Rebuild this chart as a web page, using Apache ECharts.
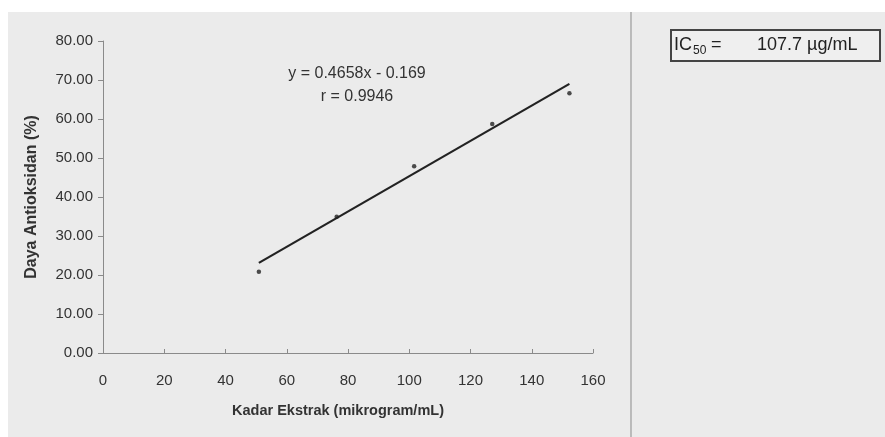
<!DOCTYPE html>
<html>
<head>
<meta charset="utf-8">
<script src="https://cdn.jsdelivr.net/npm/echarts@6/dist/echarts.min.js"></script>
<style>
html,body{margin:0;padding:0;background:#fff;}
#c{width:885px;height:437px;}
</style>
</head>
<body>
<div id="c"></div>
<script>
// Data
var kadar = [50.9, 76.3, 101.6, 127.1, 152.3];
var daya = [20.85, 34.95, 47.9, 58.7, 66.6];
var trendX = [50.9, 152.3];
var trendY = [23.1, 69.0];
var xTicks = [0, 20, 40, 60, 80, 100, 120, 140, 160];
var yTicks = [0, 10, 20, 30, 40, 50, 60, 70, 80];
var eqText = 'y = 0.4658x - 0.169';
var rText = 'r = 0.9946';
var icLabel = 'IC';
var icSub = '50';
var icValue = '107.7 µg/mL';

var chart = echarts.init(document.getElementById('c'));
var font = '"Liberation Sans", Arial, sans-serif';
var option = {
  backgroundColor: '#ffffff',
  animation: false,
  textStyle: { fontFamily: font },
  grid: { left: 103, right: 292, top: 41, bottom: 84 },
  xAxis: {
    type: 'value', min: 0, max: 160, interval: 20,
    name: 'Kadar Ekstrak (mikrogram/mL)', nameLocation: 'middle', nameGap: 50,
    nameTextStyle: { fontSize: 14.5, fontWeight: 'bold', color: '#333', padding: [0, 20, 0, 0] },
    axisLine: { lineStyle: { color: '#8a8a8a', width: 1 } },
    axisTick: { inside: true, length: 4, lineStyle: { color: '#8a8a8a' } },
    axisLabel: { fontSize: 15, color: '#333', margin: 20 },
    splitLine: { show: false }
  },
  yAxis: {
    type: 'value', min: 0, max: 80, interval: 10,
    name: 'Daya Antioksidan (%)', nameLocation: 'middle', nameGap: 63,
    nameTextStyle: { fontSize: 16, fontWeight: 'bold', color: '#333' },
    axisLine: { show: true, lineStyle: { color: '#8a8a8a', width: 1 } },
    axisTick: { show: true, length: 5, lineStyle: { color: '#8a8a8a' } },
    axisLabel: { fontSize: 15, color: '#333', margin: 10, formatter: function (v) { return v.toFixed(2); } },
    splitLine: { show: false }
  },
  graphic: [
    { type: 'rect', z: -10, shape: { x: 8, y: 12, width: 877, height: 425 }, style: { fill: '#ebebeb' } },
    { type: 'line', z: -5, shape: { x1: 631, y1: 12, x2: 631, y2: 437 }, style: { stroke: '#9a9a9a', lineWidth: 1.2 } },
    { type: 'rect', shape: { x: 671, y: 30, width: 209, height: 31 }, style: { fill: '#efefef', stroke: '#444', lineWidth: 2 } },
    { type: 'text', x: 674, y: 45, style: { text: icLabel, fontSize: 18, fill: '#222', fontFamily: font, verticalAlign: 'middle' } },
    { type: 'text', x: 693, y: 51, style: { text: icSub, fontSize: 12, fill: '#222', fontFamily: font, verticalAlign: 'middle' } },
    { type: 'text', x: 711, y: 45, style: { text: '=', fontSize: 18, fill: '#222', fontFamily: font, verticalAlign: 'middle' } },
    { type: 'text', x: 757, y: 45, style: { text: icValue, fontSize: 18, fill: '#222', fontFamily: font, verticalAlign: 'middle' } },
    { type: 'text', x: 357, y: 74, style: { text: eqText, fontSize: 16, fill: '#333', fontFamily: font, align: 'center', verticalAlign: 'middle' } },
    { type: 'text', x: 357, y: 97, style: { text: rText, fontSize: 16, fill: '#333', fontFamily: font, align: 'center', verticalAlign: 'middle' } }
  ],
  series: [
    {
      type: 'line', data: trendX.map(function (x, i) { return [x, trendY[i]]; }),
      showSymbol: false, lineStyle: { color: '#222', width: 2.2 }, z: 2
    },
    {
      type: 'scatter', data: kadar.map(function (x, i) { return [x, daya[i]]; }),
      symbol: 'circle', symbolSize: 4.5, itemStyle: { color: '#222' }, z: 3
    }
  ]
};
chart.setOption(option);
</script>
</body>
</html>
